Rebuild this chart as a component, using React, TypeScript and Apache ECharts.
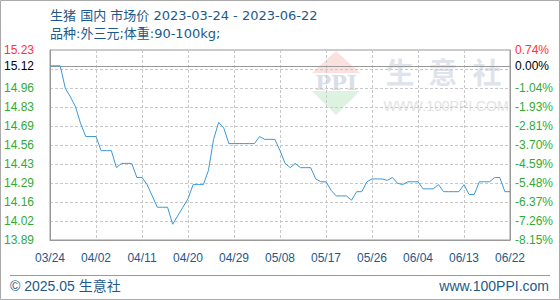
import React, { useEffect, useRef } from "react";
import * as echarts from "echarts";

// ---- data ----
const startDate = "2023-03-24";
const dayCount = 91;
const prices = [
  15.12, 15.12, 15.12, 14.96, 14.9, 14.83, 14.71, 14.62, 14.62, 14.62,
  14.52, 14.52, 14.52, 14.4, 14.43, 14.43, 14.43, 14.33, 14.33, 14.28,
  14.2, 14.12, 14.12, 14.12, 14.0, 14.06, 14.12, 14.18, 14.28, 14.28,
  14.28, 14.38, 14.6, 14.72, 14.68, 14.57, 14.57, 14.57, 14.57, 14.57,
  14.57, 14.62, 14.6, 14.6, 14.6, 14.52, 14.43, 14.4, 14.43, 14.4,
  14.4, 14.4, 14.32, 14.3, 14.3, 14.24, 14.2, 14.2, 14.2, 14.17,
  14.23, 14.23, 14.3, 14.32, 14.32, 14.32, 14.31, 14.33, 14.29, 14.28,
  14.3, 14.3, 14.3, 14.25, 14.25, 14.25, 14.28, 14.23, 14.23, 14.23,
  14.23, 14.28, 14.21, 14.21, 14.3, 14.3, 14.3, 14.33, 14.33, 14.23,
  14.23,
];
const basePrice = 15.12;
const minPct = -8.146;
const maxPct = 0.74;
const gridSteps = 10;
const hiddenGridIndex = 9;
const xLabelEvery = 9;

const titleText = "生猪 国内 市场价 2023-03-24 - 2023-06-22";
const subTitleText = "品种:外三元;体重:90-100kg;";
const copyrightText = "© 2025.05 生意社";
const siteText = "www.100PPI.com";

// ---- derived ----
const categories: string[] = [];
{
  const d0 = new Date(startDate + "T00:00:00Z");
  for (let i = 0; i < dayCount; i++) {
    const d = new Date(d0.getTime() + i * 86400000);
    const mm = String(d.getUTCMonth() + 1).padStart(2, "0");
    const dd = String(d.getUTCDate()).padStart(2, "0");
    categories.push(mm + "/" + dd);
  }
}
const yMin = basePrice * (1 + minPct / 100);
const yMax = basePrice * (1 + maxPct / 100);
const gridValues: number[] = [];
for (let k = 0; k <= gridSteps; k++) {
  gridValues.push(k === 0 ? yMin : k === gridSteps ? yMax : yMin + ((yMax - yMin) * k) / gridSteps);
}
const labelValues = gridValues.filter((_, i) => i !== hiddenGridIndex).concat([basePrice]);

const RED = "#ff3333";
const GREEN = "#33aa33";
const BLUE_TEXT = "#1d5a8a";
const LINE = "#3a98d8";
const GRIDLINE = "#c8c8c8";
const BORDER = "#999999";

function labelColor(v: any) {
  const n = Number(v);
  if (n > yMax - 1e-6) return RED;
  if (Math.abs(n - basePrice) < 1e-6) return "#000000";
  return GREEN;
}

export default function App() {
  const ref = useRef<HTMLDivElement>(null);
  useEffect(() => {
    document.body.style.margin = "0";
    if (!ref.current) return;
    const chart = echarts.init(ref.current, null, { renderer: "svg" });
    const font = "Liberation Sans, Arial, Noto Sans CJK SC, sans-serif";
    const titleFont = "13px DejaVu Sans, Noto Sans CJK SC, sans-serif";
    chart.setOption({
      animation: false,
      backgroundColor: "#ffffff",
      grid: {
        left: 50,
        right: 50,
        top: 50,
        bottom: 60,
        show: true,
        borderColor: BORDER,
        borderWidth: 1,
        backgroundColor: "transparent",
      },
      xAxis: {
        type: "category",
        data: categories,
        boundaryGap: false,
        axisLine: { show: true, lineStyle: { color: BORDER } },
        axisTick: { show: false },
        axisLabel: {
          interval: xLabelEvery - 1,
          color: BLUE_TEXT,
          fontSize: 12,
          fontFamily: font,
          margin: 12,
        },
        splitLine: {
          show: true,
          interval: xLabelEvery - 1,
          lineStyle: { color: GRIDLINE, type: [3, 2], width: 1 },
        },
      },
      yAxis: [
        {
          type: "value",
          min: yMin,
          max: yMax,
          position: "left",
          axisLine: { show: true, lineStyle: { color: BORDER } },
          axisTick: { show: false, customValues: gridValues },
          splitLine: { show: true, lineStyle: { color: GRIDLINE, type: [3, 2], width: 1 } },
          axisLabel: {
            customValues: labelValues,
            margin: 16,
            fontSize: 12,
            fontFamily: font,
            color: labelColor,
            formatter: (v: number) => Number(v).toFixed(2),
          },
        },
        {
          type: "value",
          min: yMin,
          max: yMax,
          position: "right",
          axisLine: { show: true, lineStyle: { color: BORDER } },
          axisTick: { show: false, customValues: gridValues },
          splitLine: { show: false },
          axisLabel: {
            customValues: labelValues,
            margin: 5,
            fontSize: 12,
            fontFamily: font,
            color: labelColor,
            formatter: (v: number) => ((Number(v) / basePrice - 1) * 100).toFixed(2) + "%",
          },
        },
      ],
      series: [
        {
          type: "line",
          data: prices,
          yAxisIndex: 0,
          symbol: "none",
          z: 5,
          lineStyle: { color: LINE, width: 1 },
          markLine: {
            silent: true,
            symbol: ["none", "none"],
            label: { show: false },
            lineStyle: { color: BORDER, type: "solid", width: 1 },
            data: [{ yAxis: basePrice }],
          },
        },
      ],
      graphic: [
        // watermark logo
        { type: "polygon", z: -10, shape: { points: [[312, 73], [336, 51], [360, 73]] }, style: { fill: "#fbe0e0" } },
        { type: "polygon", z: -10, shape: { points: [[312, 91], [360, 91], [336, 115]] }, style: { fill: "#def2e2" } },
        {
          type: "text", z: -10, x: 336, y: 82,
          style: { text: "PPI", fill: "#d9dee9", font: "bold 21px DejaVu Serif, serif", align: "center", verticalAlign: "middle", textAlign: "center", textVerticalAlign: "middle" },
        },
        {
          type: "text", z: -10, x: 400, y: 71,
          style: { text: "生", fill: "#dfe3ec", font: "bold 29px Noto Sans CJK SC", align: "center", verticalAlign: "middle", textAlign: "center", textVerticalAlign: "middle" },
        },
        {
          type: "text", z: -10, x: 443, y: 71,
          style: { text: "意", fill: "#dfe3ec", font: "bold 29px Noto Sans CJK SC", align: "center", verticalAlign: "middle", textAlign: "center", textVerticalAlign: "middle" },
        },
        {
          type: "text", z: -10, x: 487, y: 71,
          style: { text: "社", fill: "#dfe3ec", font: "bold 29px Noto Sans CJK SC", align: "center", verticalAlign: "middle", textAlign: "center", textVerticalAlign: "middle" },
        },
        {
          type: "text", z: -10, x: 446, y: 106,
          style: { text: "WWW.100PPI.COM", fill: "#e3e3e3", font: "14px Liberation Sans, Arial", align: "center", verticalAlign: "middle", textAlign: "center", textVerticalAlign: "middle" },
        },
        // titles
        {
          type: "text", x: 50, y: 15,
          style: { text: titleText, fill: BLUE_TEXT, font: titleFont, align: "left", verticalAlign: "middle", textAlign: "left", textVerticalAlign: "middle" },
        },
        {
          type: "text", x: 50, y: 33,
          style: { text: subTitleText, fill: BLUE_TEXT, font: titleFont, align: "left", verticalAlign: "middle", textAlign: "left", textVerticalAlign: "middle" },
        },
        // footer
        { type: "line", shape: { x1: 10, y1: 275.5, x2: 550, y2: 275.5 }, style: { stroke: BORDER, lineWidth: 1 } },
        {
          type: "text", x: 10, y: 286,
          style: { text: copyrightText, fill: BLUE_TEXT, font: "14px Liberation Sans, Noto Sans CJK SC", align: "left", verticalAlign: "middle", textAlign: "left", textVerticalAlign: "middle" },
        },
        {
          type: "text", x: 549, y: 286,
          style: { text: siteText, fill: BLUE_TEXT, font: "14px Liberation Sans, Arial", align: "right", verticalAlign: "middle", textAlign: "right", textVerticalAlign: "middle" },
        },
        // outer border
        { type: "rect", shape: { x: 0.5, y: 0.5, width: 559, height: 299 }, style: { fill: "none", stroke: "#aaaaaa", lineWidth: 1 } },
      ],
    });
    return () => chart.dispose();
  }, []);
  return <div ref={ref} style={{ width: 560, height: 300 }} />;
}
